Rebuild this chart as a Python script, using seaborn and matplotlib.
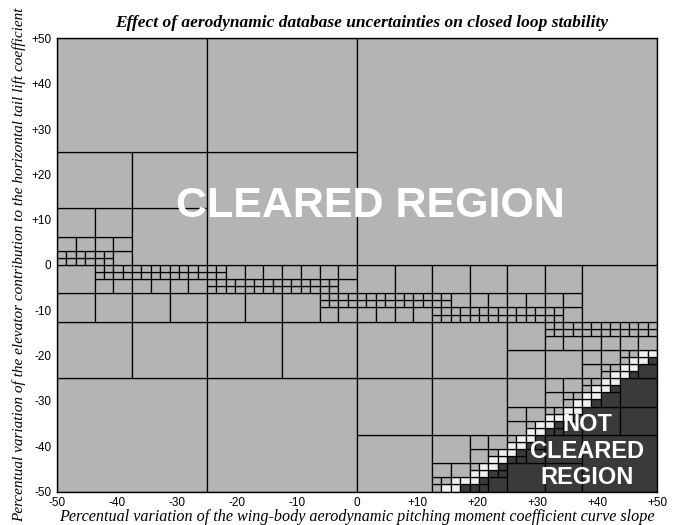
import numpy as np
import pandas as pd
import matplotlib
matplotlib.use("Agg")
import matplotlib.pyplot as plt
from matplotlib.patches import Rectangle
import seaborn as sns

# ---------------- data ----------------
x_range = [-50.0, 50.0]
y_range = [-50.0, 50.0]
tick_values = [-50, -40, -30, -20, -10, 0, 10, 20, 30, 40, 50]
x_tick_labels = ["-50", "-40", "-30", "-20", "-10", "0", "+10", "+20", "+30", "+40", "+50"]
y_tick_labels = ["-50", "-40", "-30", "-20", "-10", "0", "+10", "+20", "+30", "+40", "+50"]

# line along which the clearance test was inconclusive (cells refined, all cleared)
band_x = [-50.0, 50.0]
band_y = [1.33, -15.27]
# stability boundary: below it the cells are not cleared
stab_x = [15.45, 50.0]
stab_y = [-50.0, -18.78]
max_depth = 6  # finest cell = 100 / 2**6

status_colors = {"cleared": "#b4b4b4", "not cleared": "#3a3a3a", "undetermined": "#f0f0f0"}

title = "Effect of aerodynamic database uncertainties on closed loop stability"
xlabel = "Percentual variation of the wing-body aerodynamic pitching moment coefficient curve slope"
ylabel = "Percentual variation of the elevator contribution to the horizontal tail lift coefficient"


def line_fn(xs, ys):
    k = (ys[1] - ys[0]) / (xs[1] - xs[0])
    return lambda x: ys[0] + k * (x - xs[0])


band = line_fn(band_x, band_y)
stab = line_fn(stab_x, stab_y)


def side(fn, x0, y0, s):
    vals = [y - fn(x) for x in (x0, x0 + s) for y in (y0, y0 + s)]
    return min(vals), max(vals)


rows = []


def build(x0, y0, s, depth):
    bmin, bmax = side(band, x0, y0, s)
    smin, smax = side(stab, x0, y0, s)
    on_band = bmin < 0 < bmax
    on_stab = smin < 0 < smax
    if (on_band or on_stab) and depth < max_depth:
        h = s / 2
        for dx in (0, h):
            for dy in (0, h):
                build(x0 + dx, y0 + dy, h, depth + 1)
    else:
        if on_stab:
            st = "undetermined"
        elif smax <= 0:
            st = "not cleared"
        else:
            st = "cleared"
        rows.append((x0, y0, s, st))


build(x_range[0], y_range[0], x_range[1] - x_range[0], 0)
cells = pd.DataFrame(rows, columns=["x", "y", "size", "status"])

# ---------------- drawing ----------------
sns.set_theme(style="white")
plt.rcParams["font.family"] = ["Liberation Sans", "DejaVu Sans"]

fig = plt.figure(figsize=(6.83, 5.25), dpi=100)
ax = fig.add_axes([0.0835, 0.0638, 0.8785, 0.8629])

for r in cells.itertuples():
    ax.add_patch(Rectangle((r.x, r.y), r.size, r.size,
                           facecolor=status_colors[r.status],
                           edgecolor="black", linewidth=0.9))

ax.set_xlim(x_range)
ax.set_ylim(y_range)
ax.set_xticks(tick_values)
ax.set_xticklabels(x_tick_labels)
ax.set_yticks(tick_values)
ax.set_yticklabels(y_tick_labels)
ax.tick_params(axis="both", length=0, labelsize=8.5, colors="black")
ax.tick_params(axis="x", pad=4)
ax.tick_params(axis="y", pad=4)
for sp in ax.spines.values():
    sp.set_visible(True)
    sp.set_color("black")
    sp.set_linewidth(1.0)

serif = ["Liberation Serif", "DejaVu Serif"]
ax.set_title(title, family=serif, style="italic", weight="bold", fontsize=12.5,
             color="black", pad=8, x=0.508)
ax.set_xlabel(xlabel, family=serif, style="italic", fontsize=11.6, color="black", labelpad=0)
ax.set_ylabel(ylabel, family=serif, style="italic", fontsize=11, color="black", labelpad=4)

ax.text(2.3, 13.0, "CLEARED REGION", color="white", weight="bold", fontsize=31,
        ha="center", va="center")
ax.text(38.4, -41.1, "NOT\nCLEARED\nREGION", color="white", weight="bold", fontsize=17,
        ha="center", va="center", linespacing=1.2)

fig.savefig("out.png", dpi=100)
